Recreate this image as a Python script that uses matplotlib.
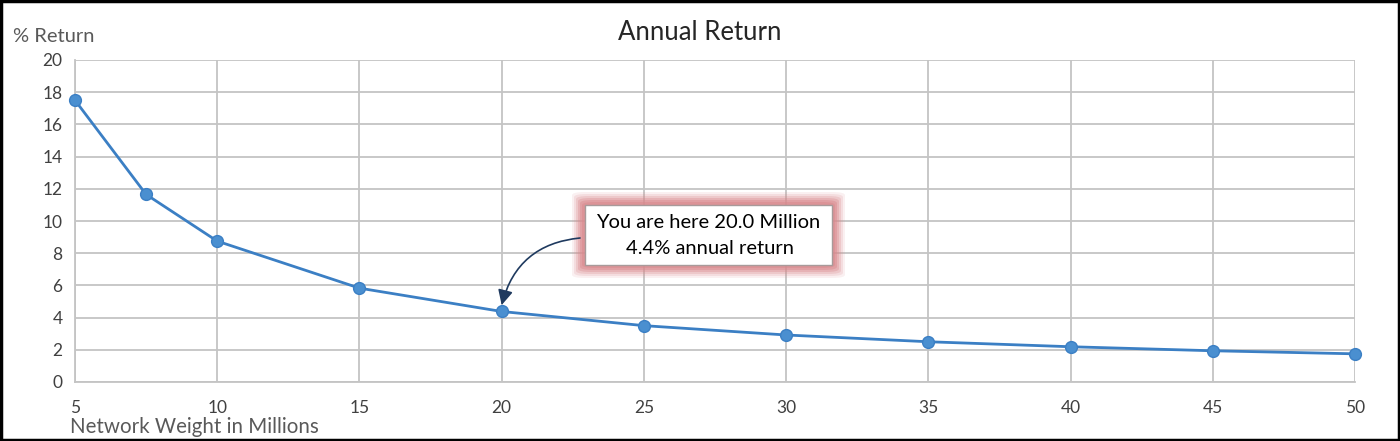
import matplotlib
matplotlib.use("Agg")
import matplotlib.pyplot as plt
from matplotlib.patches import FancyBboxPatch, Rectangle

plt.rcParams['font.family'] = ['Lato', 'DejaVu Sans']

weights = [5, 7.5, 10, 15, 20, 25, 30, 35, 40, 45, 50]
returns = [17.5, 11.65, 8.75, 5.83, 4.38, 3.5, 2.92, 2.5, 2.19, 1.94, 1.75]
x_ticks = [5, 10, 15, 20, 25, 30, 35, 40, 45, 50]
y_ticks = [0, 2, 4, 6, 8, 10, 12, 14, 16, 18, 20]
title = "Annual Return"
x_label = "Network Weight in Millions"
y_label = "% Return"
note_lines = ["You are here 20.0 Million", "4.4% annual return"]
here_x, here_y = 20, 4.38

fig = plt.figure(figsize=(14, 4.41), dpi=100)
ax = fig.add_axes([75/1400, 1-382/441, 1280/1400, 322/441])

line_color = '#3b7fc4'
ax.plot(weights, returns, color=line_color, lw=2.0, marker='o', ms=8.5,
        markerfacecolor='#4a8fd0', markeredgecolor=line_color, zorder=3, clip_on=False)

ax.set_xlim(5, 50)
ax.set_ylim(0, 20)
ax.set_xticks(x_ticks)
ax.set_yticks(y_ticks)
ax.grid(True, color='#c4c4c4', lw=1.3)
ax.set_axisbelow(True)
for s in ax.spines.values():
    s.set_visible(False)
for side in ('left', 'bottom'):
    ax.spines[side].set_visible(True)
    ax.spines[side].set_color('#c4c4c4')
    ax.spines[side].set_linewidth(1.3)
ax.tick_params(length=0, labelsize=12.5, colors='#404040')
ax.tick_params(axis='y', pad=9)
ax.tick_params(axis='x', pad=13)

fig.text(700/1400, 1-32/441, title, ha='center', va='center', fontsize=18.5, color='#262626')
fig.text(13/1400, 1-37/441, y_label, ha='left', va='center', fontsize=14.5, color='#595959')
fig.text(70/1400, 1-427/441, x_label, ha='left', va='center', fontsize=14.8, color='#595959')

# glow box
for pad_px, a in [(13, 0.12), (11, 0.18), (9, 0.25), (7, 0.35), (5, 0.45), (3, 0.55)]:
    x0 = (585 - pad_px - 75) / 1280
    x1 = (832 + pad_px - 75) / 1280
    y0 = (382 - (265 + pad_px)) / 322
    y1 = (382 - (205 - pad_px)) / 322
    ax.add_patch(FancyBboxPatch((x0, y0), x1 - x0, y1 - y0, boxstyle='round,pad=0,rounding_size=0.01',
                                transform=ax.transAxes, facecolor='#d98a8e', edgecolor='none',
                                alpha=a, zorder=4, clip_on=False))
ax.add_patch(Rectangle(((585-75)/1280, (382-265)/322), (832-585)/1280, (265-205)/322,
                       transform=ax.transAxes, facecolor='white', edgecolor='#a89a9a', lw=1.0,
                       zorder=5, clip_on=False))
ax.text((708-75)/1280, (382-222)/322, note_lines[0], transform=ax.transAxes, ha='center', va='center',
        fontsize=14.5, color='black', zorder=6)
ax.text((710-75)/1280, (382-248)/322, note_lines[1], transform=ax.transAxes, ha='center', va='center',
        fontsize=14.5, color='black', zorder=6)

ax.annotate('', xy=(here_x, here_y + 0.4), xycoords='data',
            xytext=((580-75)/1280, (382-238)/322), textcoords='axes fraction',
            arrowprops=dict(arrowstyle='-|>,head_length=0.9,head_width=0.45', color='#1f3a5f', lw=1.2,
                            connectionstyle='arc3,rad=0.35', shrinkA=0, shrinkB=0), zorder=6)

fig.patches.append(Rectangle((0.001, 0.002), 0.998, 0.996, transform=fig.transFigure,
                             fill=False, edgecolor='black', lw=2.5))

fig.savefig('out.png', dpi=100)
